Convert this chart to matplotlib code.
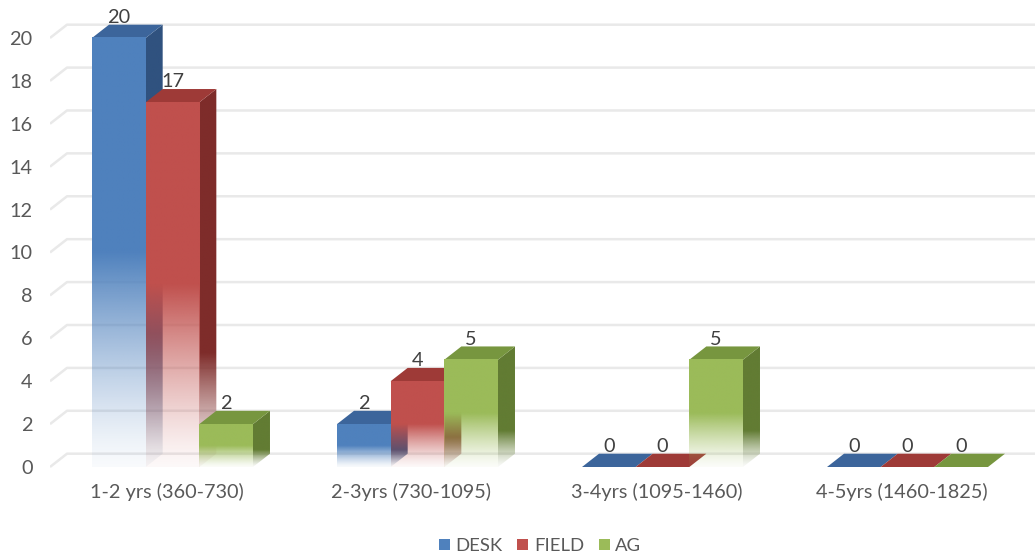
import numpy as np
import matplotlib
matplotlib.use("Agg")
import matplotlib.pyplot as plt
from matplotlib.patches import Polygon, Patch
from matplotlib.colors import to_rgb

# ---- data ----
categories = ["1-2 yrs (360-730)", "2-3yrs (730-1095)", "3-4yrs (1095-1460)", "4-5yrs (1460-1825)"]
series_names = ["DESK", "FIELD", "AG"]
desk = [20, 2, 0, 0]
field = [17, 4, 0, 0]
ag = [2, 5, 5, 0]
y_ticks = [0, 2, 4, 6, 8, 10, 12, 14, 16, 18, 20]

# ---- style ----
front_cols = ["#4f81bd", "#c0504d", "#9bbb59"]
top_cols = ["#3c659b", "#9e3a37", "#77963f"]
side_cols = ["#30527f", "#7e2c2a", "#627c33"]
text_col = "#595959"
grid_col = "#e9e9e9"
fs = 14.3
plt.rcParams["font.family"] = ["Lato", "DejaVu Sans"]

W, H = 1035, 557
fig = plt.figure(figsize=(W / 100, H / 100), dpi=100)
ax = fig.add_axes([50 / W, (H - 470) / H, 1 - 50 / W, 470 / H])
ax.set_xlim(-0.5, 3.5204)
ax.set_ylim(-0.14, 21.77)

bar_w = 0.219
dx = 0.0694   # depth offset along x (data units)
dy = 0.62     # depth offset along y (data units)


def grad_image(color, fade_frac, n=256, a_min=0.04):
    """Vertical RGBA gradient: opaque above fade_frac of the height, fading towards the bottom."""
    r, g, b = to_rgb(color)
    t = np.linspace(0, 1, n)
    a = np.clip(t / fade_frac, 0, 1)
    a = a_min + (1 - a_min) * a ** 1.3
    img = np.zeros((n, 1, 4))
    img[:, 0, 0], img[:, 0, 1], img[:, 0, 2], img[:, 0, 3] = r, g, b, a
    return img


# gridlines: short slanted run from the axis to the back wall, then across the wall
x_left = -0.5
for v in y_ticks:
    ax.plot([x_left, x_left + dx, 3.6], [v, v + dy, v + dy], color=grid_col, lw=1.8,
            zorder=1, solid_capstyle="butt")

ax.set_yticks(y_ticks)
ax.set_yticklabels([str(v) for v in y_ticks])
ax.tick_params(axis="y", length=0, pad=12.5, labelsize=fs, labelcolor=text_col)
ax.set_xticks(np.arange(len(categories)) - 0.025)
ax.set_xticklabels(categories)
ax.tick_params(axis="x", length=0, pad=9, labelsize=fs, labelcolor=text_col)
for s in ax.spines.values():
    s.set_visible(False)

z = 2
series = [desk, field, ag]
for gi in range(len(categories)):
    for si, vals in enumerate(series):
        v = vals[gi]
        x0 = gi + (si - 1) * bar_w - bar_w / 2
        x1 = x0 + bar_w
        # right side face
        if v > 0:
            side = Polygon([(x1, 0), (x1 + dx, dy), (x1 + dx, v + dy), (x1, v)], closed=True,
                           facecolor="none", edgecolor="none")
            ax.add_patch(side)
            im = ax.imshow(grad_image(side_cols[si], 0.3), extent=[x1, x1 + dx, 0, v + dy],
                           origin="lower", aspect="auto", interpolation="bilinear", zorder=z)
            im.set_clip_path(side)
            z += 1
        # top face
        ax.add_patch(Polygon([(x0, v), (x0 + dx, v + dy), (x1 + dx, v + dy), (x1, v)], closed=True,
                             facecolor=top_cols[si], edgecolor="none", zorder=z))
        z += 1
        # front face
        if v > 0:
            ax.imshow(grad_image(front_cols[si], 0.5), extent=[x0, x1, 0, v],
                      origin="lower", aspect="auto", interpolation="bilinear", zorder=z)
            z += 1
        ax.text((x0 + x1) / 2, v + 0.95, str(v), ha="center", va="center", fontsize=fs,
                color="#404040", zorder=200)

ax.set_xlim(-0.5, 3.5204)
ax.set_ylim(-0.14, 21.77)

handles = [Patch(facecolor=c, edgecolor="none") for c in front_cols]
fig.legend(handles, series_names, loc="center", bbox_to_anchor=(540 / W, (H - 546) / H),
           ncol=3, frameon=False, fontsize=13.3, labelcolor=text_col, handlelength=0.6,
           handleheight=0.6, handletextpad=0.3, columnspacing=0.8)

fig.savefig("out.png", dpi=100)
